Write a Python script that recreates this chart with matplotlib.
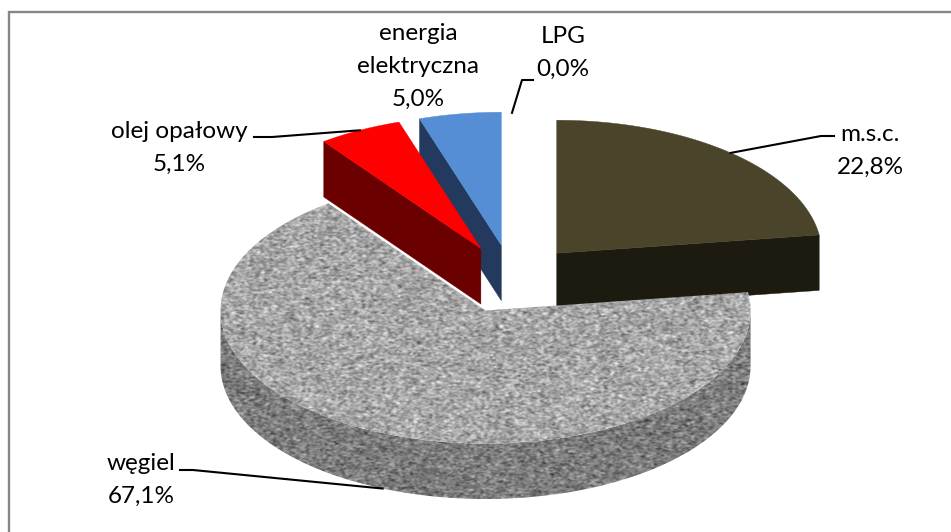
import numpy as np
import matplotlib
matplotlib.use("Agg")
import matplotlib.pyplot as plt
from matplotlib.patches import Polygon

# clockwise from 12 o'clock
slice_names = ["m.s.c.", "węgiel", "olej opałowy", "energia\nelektryczna", "LPG"]
values = [22.8, 67.1, 5.1, 5.0, 0.0]
value_labels = ["22,8%", "67,1%", "5,1%", "5,0%", "0,0%"]

top_colors = ["#4a452a", None, "#ff0000", "#558ed5", "#ffffff"]
side_colors = ["#1d1b10", None, "#6a0000", "#233a5e", "#ffffff"]

W, H = 951, 532
CX, CY = 512, 279
RX, RY = 265, 133
DEPTH = 55.5
EXPLODE = 0.257

plt.rcParams["font.family"] = ["Lato", "DejaVu Sans"]
fig = plt.figure(figsize=(W / 100, H / 100), dpi=100)
ax = fig.add_axes([0, 0, 1, 1])
ax.set_xlim(0, W)
ax.set_ylim(H, 0)
ax.axis("off")

# chart frame, only top and left edges show
ax.plot([8.5, 8.5, W], [H, 12, 12], color="#868686", lw=1.7, solid_joinstyle="miter", zorder=1)


def point(apex, deg, dy=0):
    a = np.radians(deg)
    return apex[0] + RX * np.sin(a), apex[1] - RY * np.cos(a) + dy


def arc(apex, a0, a1, dy=0):
    t = np.linspace(a0, a1, max(int(abs(a1 - a0) * 2), 2))
    x, y = point(apex, t, dy)
    return np.column_stack([x, y])


def granite(level, spread, shape, seed):
    # speckled stone texture: smoothed noise stretched a bit sideways
    rng = np.random.default_rng(seed)
    noise = rng.normal(size=shape)
    fx = np.fft.fftfreq(shape[1])[None, :]
    fy = np.fft.fftfreq(shape[0])[:, None]
    kernel = np.exp(-2 * np.pi ** 2 * ((1.2 * fx) ** 2 + (0.7 * fy) ** 2))
    smooth = np.fft.ifft2(np.fft.fft2(noise) * kernel).real
    smooth /= smooth.std()
    return np.clip(level + spread * smooth, 0, 255)


def textured(poly, tex, z):
    patch = Polygon(poly, closed=True, fc="none", ec="none", transform=ax.transData, zorder=z)
    ax.add_patch(patch)
    im = ax.imshow(tex, cmap="gray", vmin=0, vmax=255, extent=[0, W, H, 0],
                   interpolation="bilinear", aspect="auto", zorder=z)
    im.set_clip_path(patch)


total = sum(values)
starts = np.cumsum([0] + values[:-1]) / total * 360
ends = np.cumsum(values) / total * 360
mids = (starts + ends) / 2
apexes = []
for m in mids:
    a = np.radians(m)
    apexes.append((CX + EXPLODE * RX * np.sin(a), CY - EXPLODE * RY * np.cos(a)))

# painted back to front: m.s.c., energia, olej, then the big slice
z = 3
for i in [0, 3, 2, 1]:
    apex, a0, a1 = apexes[i], starts[i], ends[i]
    top = np.vstack([[apex], arc(apex, a0, a1)])
    z += 1
    if i == 1:
        # outer wall facing the viewer
        w0, w1 = max(a0, 90), min(a1, 270)
        wall = np.vstack([arc(apex, w0, w1), arc(apex, w1, w0, DEPTH)])
        textured(wall, granite(124, 17, (H, W), 4), z)
        textured(top, granite(166, 19, (H, W), 7), z + 1)
    else:
        for face_deg, visible in ((a0, np.sin(np.radians(a0)) < -1e-6), (a1, np.sin(np.radians(a1)) > 1e-6)):
            if visible:
                p = point(apex, face_deg)
                quad = [apex, p, (p[0], p[1] + DEPTH), (apex[0], apex[1] + DEPTH)]
                ax.add_patch(Polygon(quad, closed=True, fc=side_colors[i], ec=side_colors[i], lw=0.3, zorder=z))
        ax.add_patch(Polygon(top, closed=True, fc=top_colors[i], ec=top_colors[i], lw=0.3, zorder=z + 0.5))

# leader lines run from the rim at each slice's middle angle to the text
leader_lw = 1.5
anchor = point(apexes[0], mids[0])
ax.plot([anchor[0], 821, 834], [anchor[1], 136, 136], color="black", lw=leader_lw, zorder=12)
anchor = point(apexes[2], mids[2])
ax.plot([anchor[0], 272, 254], [anchor[1], 137, 137], color="black", lw=leader_lw, zorder=12)
anchor = point(apexes[1], mids[1], DEPTH)
ax.plot([anchor[0], 193, 180], [anchor[1], 470, 470], color="black", lw=leader_lw, zorder=12)
anchor = point(apexes[4], mids[4])
ax.plot([anchor[0], 522, 533], [anchor[1] + 1, 80, 80], color="black", lw=leader_lw, zorder=12)

# label centre x and baseline of the first line
label_pos = {0: (870, 141), 1: (141, 470), 2: (179, 138), 3: (418, 40), 4: (563, 43)}
line_gap = 32.7
fs = 17.5
for i, (lx, ly) in label_pos.items():
    lines = slice_names[i].split("\n") + [value_labels[i]]
    for k, txt in enumerate(lines):
        ax.text(lx, ly + k * line_gap, txt, ha="center", va="baseline", fontsize=fs, color="black", zorder=13)

fig.savefig("out.png", dpi=100, facecolor="white")
